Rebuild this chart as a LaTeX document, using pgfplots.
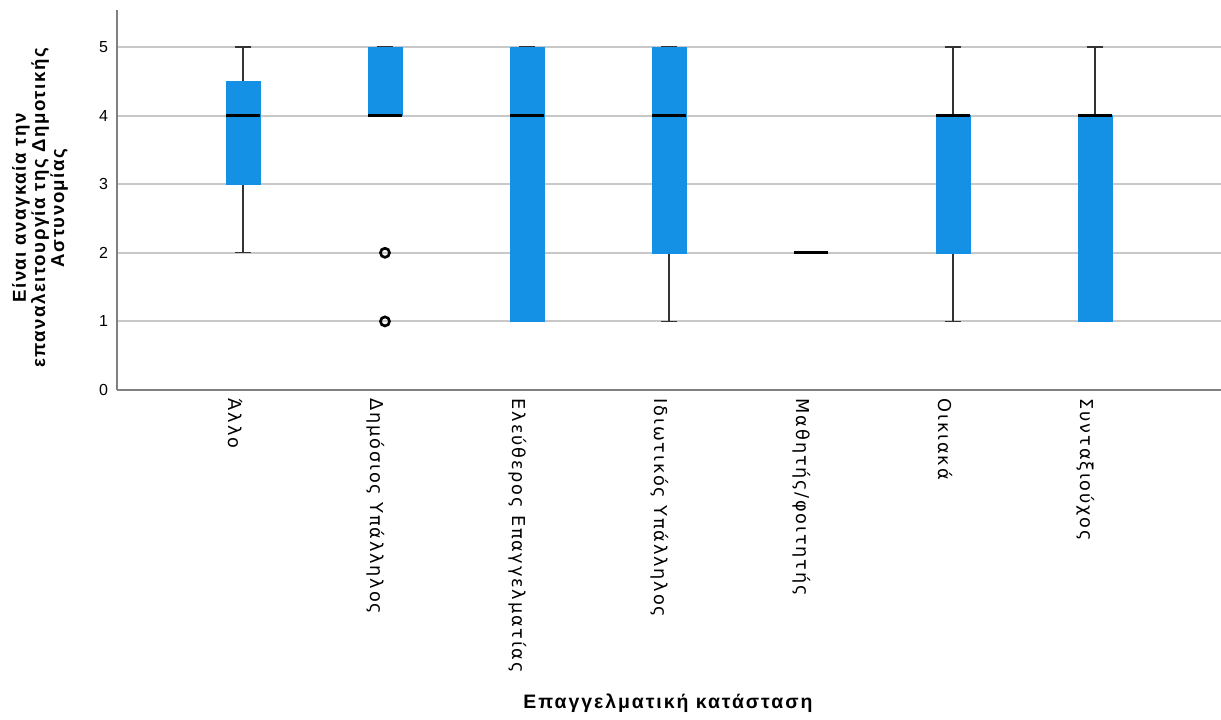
\documentclass[border=0pt]{standalone}
\usepackage{fontspec}
\setmainfont{Liberation Sans}
\newfontfamily\tickfont[LetterSpace=10]{DejaVu Sans}
\newfontfamily\xlabfont[LetterSpace=10]{Liberation Sans}
\newfontfamily\ylabfont[LetterSpace=8]{Liberation Sans}
\usepackage{pgfplots}
\pgfplotsset{compat=1.18}
\usepgfplotslibrary{statistics}
\definecolor{boxblue}{HTML}{1490E4}
\definecolor{gridgray}{HTML}{C8C8C8}
\definecolor{axgray}{HTML}{808080}
\begin{document}
\begin{tikzpicture}
\begin{axis}[
  scale only axis, width=828pt, height=285pt,
  xmin=0.113, xmax=7.887, ymin=0, ymax=5.539,
  axis x line*=bottom, axis y line*=left,
  axis line style={axgray, line width=1pt},
  ytick={0,1,2,3,4,5},
  ymajorgrids, grid style={gridgray, line width=1.4pt},
  major tick length=0pt,
  xtick={1,2,3,4,5,6,7},
  xticklabels={Άλλο,Δημόσιος Υπάλληλος,Ελεύθερος Επαγγελματίας,Ιδιωτικός Υπάλληλος,Μαθητής/φοιτητής,Οικιακά,Συνταξιούχος},
  x tick label style={rotate=-90, anchor=north west, font=\tickfont\fontsize{13.3pt}{15pt}\selectfont, inner sep=0pt},
  xticklabel shift=6.5pt,
  y tick label style={font=\fontsize{12pt}{13pt}\selectfont, anchor=east, inner sep=0pt},
  yticklabel shift=6.5pt,
  /pgf/number format/assume math mode=true,
  xlabel={Επαγγελματική κατάσταση},
  xlabel style={font=\xlabfont\bfseries\fontsize{14.6pt}{16pt}\selectfont, at={(axis description cs:0.499,0)}, anchor=center, yshift=-234.75pt},
  ylabel={Είναι αναγκαία την\\επαναλειτουργία της Δημοτικής\\Αστυνομίας},
  ylabel style={font=\ylabfont\bfseries\fontsize{14pt}{12.6pt}\selectfont, align=center, at={(axis description cs:0,0.479)}, anchor=center, yshift=57.75pt},
  boxplot/draw direction=y,
  boxplot/box extend=0.24,
  boxplot/whisker extend=0.115,
  boxplot/every box/.style={draw=boxblue, fill=boxblue},
  boxplot/every whisker/.style={black!80, line width=1pt},
  boxplot/every median/.style={black, line width=2pt},
  clip=false,
]
\addplot[black, mark=none, boxplot prepared={draw position=1, lower whisker=2, lower quartile=3, median=4, upper quartile=4.5, upper whisker=5}] coordinates {};
\addplot[black, mark=o, mark size=3.4pt, mark options={line width=2pt, black, solid}, boxplot prepared={draw position=2, lower whisker=4, lower quartile=4, median=4, upper quartile=5, upper whisker=5}] table[row sep=\\, y index=0] {2\\1\\};
\addplot[black, mark=none, boxplot prepared={draw position=3, lower whisker=1, lower quartile=1, median=4, upper quartile=5, upper whisker=5}] coordinates {};
\addplot[black, mark=none, boxplot prepared={draw position=4, lower whisker=1, lower quartile=2, median=4, upper quartile=5, upper whisker=5}] coordinates {};
\addplot[black, mark=none, boxplot prepared={draw position=5, lower whisker=2, lower quartile=2, median=2, upper quartile=2, upper whisker=2}] coordinates {};
\addplot[black, mark=none, boxplot prepared={draw position=6, lower whisker=1, lower quartile=2, median=4, upper quartile=4, upper whisker=5}] coordinates {};
\addplot[black, mark=none, boxplot prepared={draw position=7, lower whisker=1, lower quartile=1, median=4, upper quartile=4, upper whisker=5}] coordinates {};
\end{axis}
\pgfresetboundingbox
\path (-87.75pt,-247.5pt) rectangle (828pt,292.5pt);
\end{tikzpicture}
\end{document}
